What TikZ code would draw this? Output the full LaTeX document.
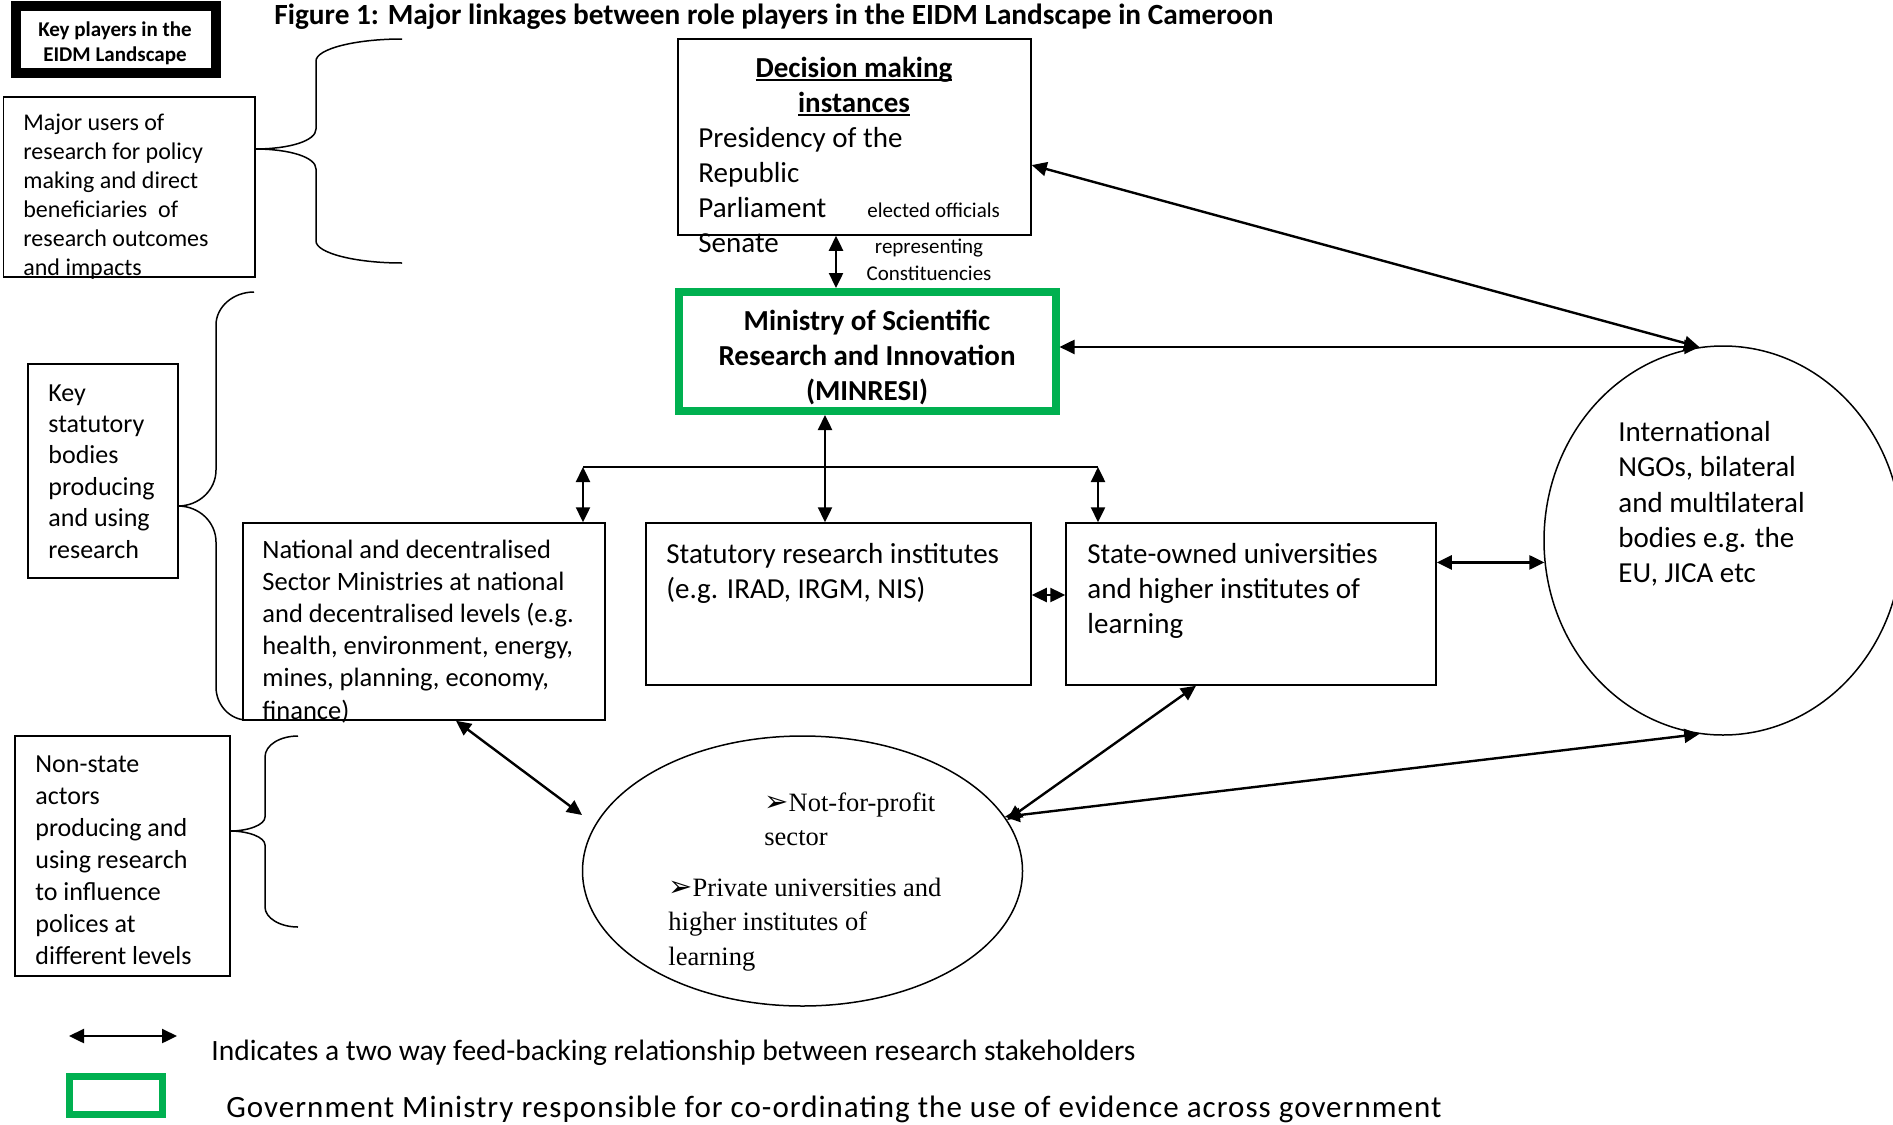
\documentclass[tikz,border=0pt]{standalone}
\usepackage{fontspec}
\setmainfont{Carlito}
\newfontfamily\tnr{Liberation Serif}
\newfontfamily\dvs{DejaVu Sans}
\newfontfamily\spaced[LetterSpace=3.3]{Carlito}
\usetikzlibrary{arrows.meta,shapes.geometric}
\newcommand\mylinesL[1]{\begin{tabular}[t]{@{}l@{}}#1\end{tabular}}
\newcommand\mylinesC[1]{\begin{tabular}[t]{@{}c@{}}#1\end{tabular}}
\newcommand\myul[1]{\setbox0\hbox{#1}\rlap{\rule[-0.14em]{\wd0}{0.065em}}\box0}
\newcommand\myarr{{\dvs\fontsize{14.5}{17}\selectfont ➢}}
\definecolor{wgreen}{HTML}{00B050}
\begin{document}
\begin{tikzpicture}[x=0.5pt,y=-0.5pt,
  box/.style={draw, line width=0.75pt, inner sep=0, rectangle},
  txt/.style={inner sep=0, anchor=base west},
  ctxt/.style={inner sep=0, anchor=base},
  dbl/.style={{Triangle[length=7.5pt,width=7pt]}-{Triangle[length=7.5pt,width=7pt]}, line width=1.2pt},
  brace/.style={line width=0.75pt}]
\useasboundingbox (0,0) rectangle (1893,1124);

% title and key
\node[txt, font=\bfseries\fontsize{14.65}{17}\selectfont] (title) at (274,25) {Figure 1: Major linkages between role players in the EIDM Landscape in Cameroon};
\node[box, line width=5pt, minimum width=100pt, minimum height=33.5pt] (keyp) at (116,39) {};
\node[ctxt, font=\bfseries\fontsize{10.5}{13}\selectfont] (keyptxt) at (115,36) {\mylinesC{Key players in the\\EIDM Landscape}};

% left category boxes
\node[box, minimum width=125.7pt, minimum height=90pt] (users) at (129.3,187) {};
\node[txt, font=\fontsize{12}{14.5}\selectfont] (userstxt) at (23,130) {\mylinesL{Major users of\\research for policy\\making and direct\\beneficiaries\ \ of\\research outcomes\\and impacts}};

\node[box, minimum width=75pt, minimum height=107pt] (ksb) at (103,471) {};
\node[txt, font=\fontsize{13}{15.7}\selectfont] (ksbtxt) at (48,401) {\mylinesL{Key\\statutory\\bodies\\producing\\and using\\research}};

\node[box, minimum width=107.5pt, minimum height=120pt] (nsa) at (122.5,856) {};
\node[txt, font=\fontsize{13}{16}\selectfont] (nsatxt) at (35,772) {\mylinesL{Non-state\\actors\\producing and\\using research\\to influence\\polices at\\different levels}};

% braces
\draw[brace] (402,39) .. controls (355,39) and (316,49) .. (316,61) -- (316,129) .. controls (316,141) and (289,149) .. (255,149) .. controls (289,149) and (316,157) .. (316,169) -- (316,241) .. controls (316,253) and (355,263) .. (402,263);
\draw[brace] (254,292) .. controls (233,292) and (216,307) .. (216,325) -- (216,470) .. controls (216,490) and (199,506) .. (178,506) .. controls (199,506) and (216,522) .. (216,542) -- (216,687) .. controls (216,705) and (230,720) .. (247,720);
\draw[brace] (298,736) .. controls (280,736) and (265,745) .. (265,757) -- (265,817) .. controls (265,825) and (248,831) .. (230,831) .. controls (248,831) and (265,837) .. (265,845) -- (265,907) .. controls (265,918) and (280,927) .. (298,927);

% decision box
\node[box, minimum width=176.5pt, minimum height=98pt] (dec) at (854.5,137) {};
\node[ctxt, font=\bfseries\fontsize{14.5}{17.6}\selectfont] (dechead) at (854,77) {\mylinesC{\myul{Decision making}\\\myul{instances}}};
\node[txt, font=\fontsize{14.5}{17.6}\selectfont] (declist) at (698,147) {\mylinesL{Presidency of the\\Republic\\Parliament\\Senate}};
\node[txt, font=\fontsize{10.5}{13.5}\selectfont] (elect) at (867,217) {elected officials};
\node[ctxt, font=\fontsize{10.5}{13.5}\selectfont] (repr) at (929,253) {\mylinesC{representing\\Constituencies}};

% MINRESI
\node[draw=wgreen, line width=4pt, minimum width=188.5pt, minimum height=59.5pt, inner sep=0] (min) at (867,351.5) {};
\node[ctxt, font=\bfseries\fontsize{14.5}{17.5}\selectfont] (mintxt) at (867,330) {\mylinesC{Ministry of Scientific\\Research and Innovation\\(MINRESI)}};

% middle row
\node[box, minimum width=181pt, minimum height=98.5pt] (nat) at (424,621.5) {};
\node[txt, font=\fontsize{13.25}{16.1}\selectfont] (nattxt) at (262,558) {\mylinesL{National and decentralised\\Sector Ministries at national\\and decentralised levels (e.g.\\health, environment, energy,\\mines, planning, economy,\\finance)}};

\node[box, minimum width=192.5pt, minimum height=81pt] (sri) at (838.5,604) {};
\node[txt, font=\fontsize{14.5}{17.7}\selectfont] (sritxt) at (666,563) {\mylinesL{Statutory research institutes\\(e.g. IRAD, IRGM, NIS)}};

\node[box, minimum width=185pt, minimum height=81pt] (sou) at (1251,604) {};
\node[txt, font=\fontsize{14.5}{17.7}\selectfont] (soutxt) at (1087,563) {\mylinesL{State-owned universities\\and higher institutes of\\learning}};

% international ellipse
\node[draw, line width=0.75pt, ellipse, minimum width=179pt, minimum height=194.5pt, inner sep=0] (intl) at (1723,540.5) {};
\node[txt, font=\fontsize{14.5}{17.65}\selectfont] (intltxt) at (1618,441.5) {\mylinesL{International\\NGOs, bilateral\\and multilateral\\bodies e.g. the\\EU, JICA etc}};

% non-state ellipse
\node[draw, line width=0.75pt, ellipse, minimum width=220pt, minimum height=135pt, inner sep=0] (small) at (802.5,871) {};
\node[txt, font=\tnr\fontsize{13.25}{17.25}\selectfont] (smtxt1) at (764,811) {\mylinesL{\myarr Not-for-profit\\sector}};
\node[txt, font=\tnr\fontsize{13.25}{17.25}\selectfont] (smtxt2) at (668,896) {\mylinesL{\myarr Private universities and\\higher institutes of\\learning}};

% connectors
\coordinate (xa) at (836,0);
\draw[dbl] (dec.south -| xa) -- (min.north -| xa);
\draw[dbl] (dec.-9) -- (intl.97);
\draw[dbl] (intl.97 -| min.east) -- (intl.97);
\coordinate (xb) at (825,0);
\draw[dbl] (min.south -| xb) -- (sri.north -| xb);
\coordinate (busL) at (583,467);
\coordinate (busR) at (1098,467);
\draw[line width=1.2pt] (busL) -- (busR);
\draw[dbl] (busL) -- (nat.north -| busL);
\draw[dbl] (busR) -- (sou.north -| busR);
\coordinate (yc) at (0,595);
\draw[dbl] (sri.east |- yc) -- (sou.west |- yc);
\draw[dbl] (sou.east |- intl.187) -- (intl.187);
\coordinate (xd) at (456,0);
\coordinate (smallL) at (582,815);
\draw[dbl] (nat.south -| xd) -- (smallL);
\coordinate (xe) at (1196,0);
\draw[dbl] (sou.south -| xe) -- (small.14);
\draw[dbl] (small.15) -- (intl.263);

% legend
\coordinate (lgA) at (69,1036);
\coordinate (lgB) at (177,1036);
\draw[dbl] (lgA) -- (lgB);
\node[draw=wgreen, line width=3.5pt, minimum width=46.5pt, minimum height=19pt, inner sep=0] (lgbox) at (115.5,1095) {};
\node[txt, font=\fontsize{14.75}{17}\selectfont] (lg1) at (211,1060) {Indicates a two way feed-backing relationship between research stakeholders};
\node[txt, font=\spaced\fontsize{15.5}{18}\selectfont] (lg2) at (226,1117) {Government Ministry responsible for co-ordinating the use of evidence across government};
\end{tikzpicture}
\end{document}
